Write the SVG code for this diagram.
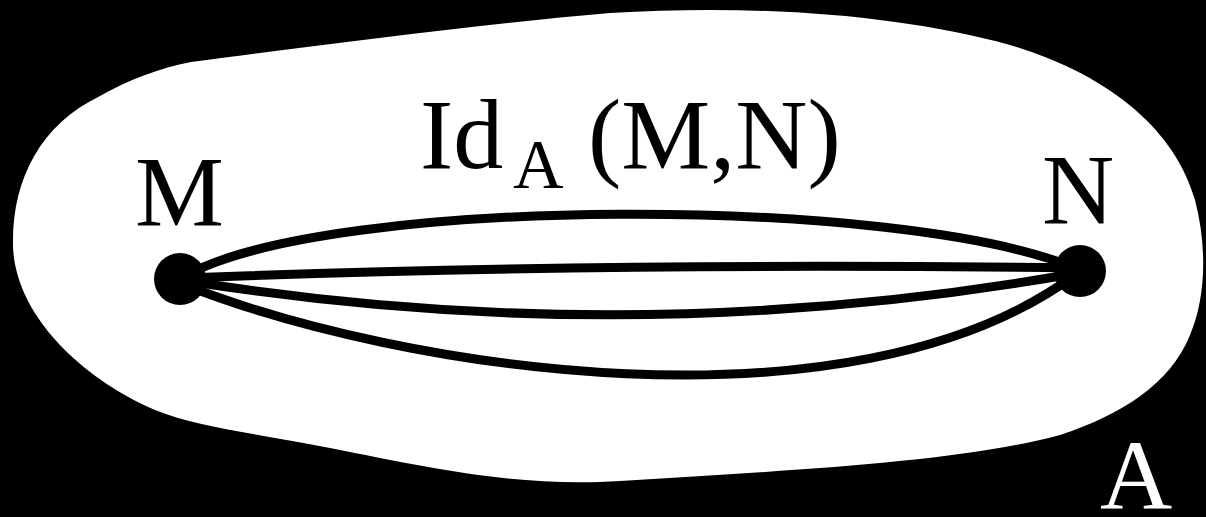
<svg xmlns="http://www.w3.org/2000/svg" width="1206" height="517" viewBox="0 0 1206 517">
<style>
.lbl{font-family:"Liberation Serif","DejaVu Serif",serif;font-size:100px;fill:#000}
.edge{fill:none;stroke:#000;stroke-width:9;stroke-linecap:round}
.dot{fill:#000}
</style>
<rect x="0" y="0" width="1206" height="517" fill="#000"/>
<g id="A">
<path d="M 191 62 C 320 45, 480 24, 610 13 C 760 4, 900 15, 1010 45 C 1110 75, 1175 130, 1195 200 C 1208 250, 1205 300, 1190 335 C 1170 385, 1120 415, 1060 435 C 960 462, 800 470, 620 481 C 520 487, 440 470, 330 448 C 260 434, 200 428, 155 410 C 75 375, 14 310, 13 245 C 12 180, 40 125, 100 96 C 128 80, 160 68, 191 62 Z" fill="#fff"/>
<text class="lbl" x="1100" y="509" style="fill:#fff">A</text>
</g>
<g id="connectors">
<path class="edge" d="M 185 276 C 330 195, 900 195, 1075 268"/>
<path class="edge" d="M 185 278 Q 600 262 1075 268"/>
<path class="edge" d="M 188 281 Q 630 352 1072 274"/>
<path class="edge" d="M 185 285 C 400 370, 850 440, 1075 275"/>
</g>
<g id="M">
<circle class="dot" cx="180" cy="279" r="26"/>
<text class="lbl" x="135" y="225">M</text>
</g>
<g id="N">
<circle class="dot" cx="1080" cy="271" r="26"/>
<text class="lbl" x="1042" y="223">N</text>
</g>
<g id="label">
<text class="lbl" x="420" y="168">Id<tspan x="513" y="188" style="font-size:70px">A</tspan><tspan x="588" y="168">(M,N)</tspan></text>
</g>
</svg>
